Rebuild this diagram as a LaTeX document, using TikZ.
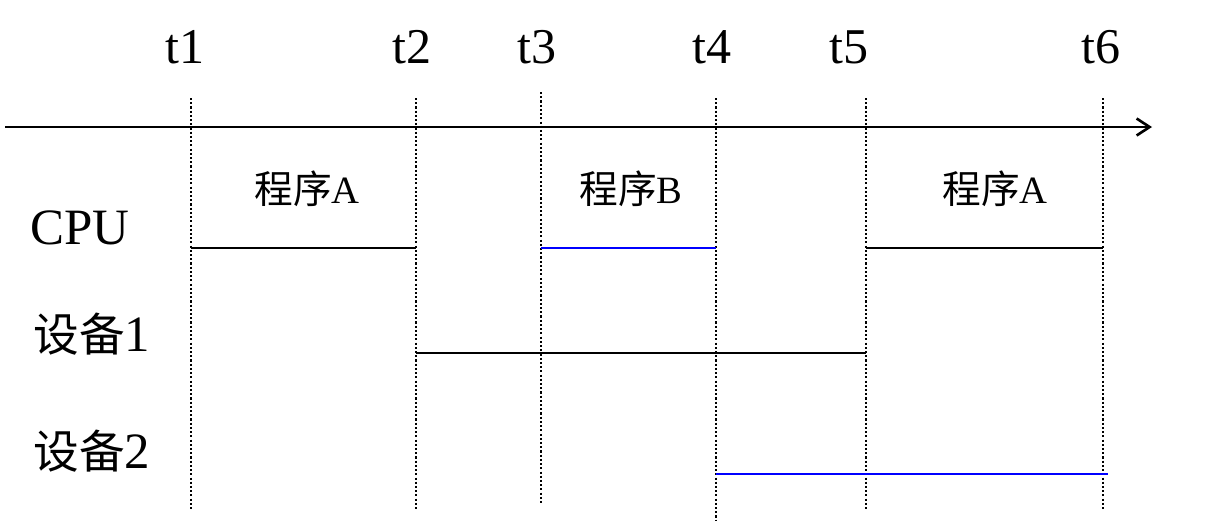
\documentclass[tikz,border=0pt]{standalone}
\usepackage{fontspec}
\setmainfont{Liberation Serif}
\newfontfamily\cjk{Noto Sans CJK SC}
\usetikzlibrary{arrows.meta}
\definecolor{SegBlue}{HTML}{0000FF}
\newcommand{\devname}{{\cjk\fontsize{26}{30}\selectfont 设备}}
\tikzset{
  timelab/.style={font=\fontsize{28.5}{32}\selectfont,anchor=base,inner sep=0pt},
  rowlab/.style={font=\fontsize{29}{32}\selectfont,anchor=base west,inner sep=0pt},
  proglab/.style={font=\fontsize{22}{26}\selectfont,anchor=base,inner sep=0pt},
  tickline/.style={line width=1.4pt,dash pattern=on 1.2pt off 1.2pt},
  busy/.style={line width=1.2pt},
}
\begin{document}
\begin{tikzpicture}[x=0.02cm,y=-0.02cm]
    \useasboundingbox (0,0) rectangle (1216,521);
    % time axis
    \coordinate (start) at (5,127);
    \coordinate (end) at (1152,127);
    \draw[busy,line width=1.5pt,-{Straight Barb[length=0.26cm,width=0.34cm]}] (start) -- (end);
    \foreach \x/\name/\ya/\yb/\lx in {191/t1/98/510/185,416/t2/98/510/412,541/t3/92/505/537,716/t4/98/520/712,866/t5/98/510/849,1103/t6/98/510/1101} {
     \coordinate (\name) at (\x,127);
     \coordinate (\name top) at (\x,\ya);
     \coordinate (\name bot) at (\x,\yb);
     \node[timelab] (\name lab) at (\lx,63) {\name};
     \draw[tickline] (\name top) -- (\name bot);
    }
    % rows
    \node[rowlab] (cpu) at (30,244) {CPU};
    \node[rowlab] (dev1) at (33,351) {\devname 1};
    \node[rowlab] (dev2) at (33,468) {\devname 2};
    \coordinate (cpuline) at (0,248);
    \coordinate (dev1line) at (0,353);
    \coordinate (dev2line) at (0,474);
    \coordinate (dev2end) at (1108,474);
    \node[proglab] (progA) at (307,203) {{\cjk 程序}A};
    \node[proglab] (progB) at (631,203) {{\cjk 程序}B};
    \node[proglab] (progC) at (995,203) {{\cjk 程序}A};
    \draw[busy] (t1 |- cpuline) -- (t2 |- cpuline);
    \draw[busy,SegBlue] (t3 |- cpuline) -- (t4 |- cpuline);
    \draw[busy] (t5 |- cpuline) -- (t6 |- cpuline);
    \draw[busy] (t2 |- dev1line) -- (t5 |- dev1line);
    \draw[busy,SegBlue] (t4 |- dev2line) -- (dev2end);
\end{tikzpicture}
\end{document}
